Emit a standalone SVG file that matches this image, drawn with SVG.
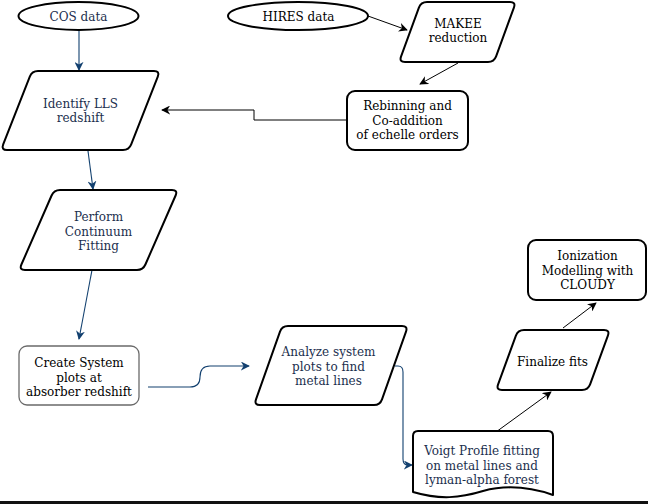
<svg xmlns="http://www.w3.org/2000/svg" width="648" height="504" viewBox="0 0 648 504" font-family="'DejaVu Serif', 'Liberation Serif', serif">
<defs>
<style>
.shape{fill:#ffffff;stroke:#000000;stroke-width:2;stroke-linejoin:round}
.light{fill:#ffffff;stroke:#6a6a6a;stroke-width:1.3}
text{font-family:'DejaVu Serif','Liberation Serif',serif;font-size:12px;text-anchor:middle}
.navy{fill:#1b2f4e}
.blk{fill:#000000}
.cn{fill:none;stroke:#12406f;stroke-width:1.1}
.cb{fill:none;stroke:#000000;stroke-width:1}
</style>
<marker id="an" viewBox="0 0 10 10" refX="9" refY="5" markerWidth="9" markerHeight="9" markerUnits="userSpaceOnUse" orient="auto">
<path d="M0,0 L10,5 L0,10 L3,5 Z" fill="#12406f"/>
</marker>
<marker id="ab" viewBox="0 0 10 10" refX="9" refY="5" markerWidth="9" markerHeight="9" markerUnits="userSpaceOnUse" orient="auto">
<path d="M0,0 L10,5 L0,10 L3,5 Z" fill="#000000"/>
</marker>
</defs>
<rect x="0" y="0" width="648" height="504" fill="#ffffff"/>
<rect x="0" y="501" width="648" height="3" fill="#111111"/>

<g id="connectors">
<path class="cn" d="M79,30 V70" marker-end="url(#an)"/>
<path class="cb" d="M368,16 L407,30" marker-end="url(#ab)"/>
<path class="cb" d="M458,63 L420,84" marker-end="url(#ab)"/>
<path class="cb" d="M347,120 H254 V110 H162" marker-end="url(#ab)"/>
<path class="cn" d="M88,151 L93,189" marker-end="url(#an)"/>
<path class="cn" d="M92,270 L79,339" marker-end="url(#an)"/>
<path class="cn" d="M148,387 H190 Q200,387 200,377 Q200,366 210,366 H249" marker-end="url(#an)"/>
<path class="cn" d="M395,366 H398 Q403,366 403,372 V459 Q403,465 408,465 H412" marker-end="url(#an)"/>
<path class="cb" d="M496,432 L551,392" marker-end="url(#ab)"/>
<path class="cb" d="M563,328 L596,303" marker-end="url(#ab)"/>
</g>

<g id="cos-data">
<ellipse class="shape" cx="78.5" cy="16" rx="60" ry="14"/>
<text class="navy" x="78.5" y="20.5">COS data</text>
</g>

<g id="hires-data">
<ellipse class="shape" cx="298" cy="16" rx="70" ry="14"/>
<text class="blk" x="298.5" y="20.5">HIRES data</text>
</g>

<g id="makee-reduction">
<path class="shape" d="M427,2 H510 Q516,2 513.9,7.6 L496.1,56.4 Q494,62 488,62 H405 Q399,62 401.1,56.4 L418.9,7.6 Q421,2 427,2 Z"/>
<text class="blk" x="458" y="28">MAKEE</text>
<text class="blk" x="458" y="42">reduction</text>
</g>

<g id="rebinning">
<rect class="shape" x="347" y="91" width="121" height="59" rx="8"/>
<text class="blk" x="407.5" y="110">Rebinning and</text>
<text class="blk" x="407.5" y="124.5">Co-addition</text>
<text class="blk" x="407.5" y="139">of echelle orders</text>
</g>

<g id="identify-lls">
<path class="shape" d="M38,71 H154 Q160,71 157.8,76.6 L131.2,144.4 Q129,150 123,150 H7 Q1,150 3.2,144.4 L29.8,76.6 Q32,71 38,71 Z"/>
<text class="navy" x="80.5" y="107.5">Identify LLS</text>
<text class="navy" x="80.5" y="122">redshift</text>
</g>

<g id="continuum-fitting">
<path class="shape" d="M60,190 H172 Q178,190 175.6,195.5 L145.4,264.5 Q143,270 137,270 H25 Q19,270 21.4,264.5 L51.6,195.5 Q54,190 60,190 Z"/>
<text class="navy" x="98.5" y="221">Perform</text>
<text class="navy" x="98.5" y="235.5">Continuum</text>
<text class="navy" x="98.5" y="250">Fitting</text>
</g>

<g id="system-plots">
<rect class="light" x="19" y="346" width="120" height="59" rx="8"/>
<text class="blk" x="79" y="367">Create System</text>
<text class="blk" x="79" y="381.5">plots at</text>
<text class="blk" x="79" y="396">absorber redshift</text>
</g>

<g id="analyze">
<path class="shape" d="M288,326 H402 Q408,326 406,331.7 L382,399.3 Q380,405 374,405 H260 Q254,405 256,399.3 L280,331.7 Q282,326 288,326 Z"/>
<text class="navy" x="328.5" y="356">Analyze system</text>
<text class="navy" x="328.5" y="370.5">plots to find</text>
<text class="navy" x="328.5" y="385">metal lines</text>
</g>

<g id="voigt">
<path class="shape" d="M418,431 H548 Q553,431 553,436 V495 C530,487 505,485 483,491 C460,498 440,500 413,492 V436 Q413,431 418,431 Z"/>
<text class="navy" x="482" y="455">Voigt Profile fitting</text>
<text class="navy" x="482" y="469.5">on metal lines and</text>
<text class="navy" x="482" y="484">lyman-alpha forest</text>
</g>

<g id="finalize">
<path class="shape" d="M524,330 H604 Q610,330 607.9,335.6 L590.1,384.4 Q588,390 582,390 H502 Q496,390 498.1,384.4 L515.9,335.6 Q518,330 524,330 Z"/>
<text class="blk" x="552.5" y="365.5">Finalize fits</text>
</g>

<g id="ionization">
<rect class="shape" x="528" y="240" width="118" height="60" rx="8"/>
<text class="blk" x="587.5" y="260">Ionization</text>
<text class="blk" x="587.5" y="274.5">Modelling with</text>
<text class="blk" x="587.5" y="289">CLOUDY</text>
</g>
</svg>
